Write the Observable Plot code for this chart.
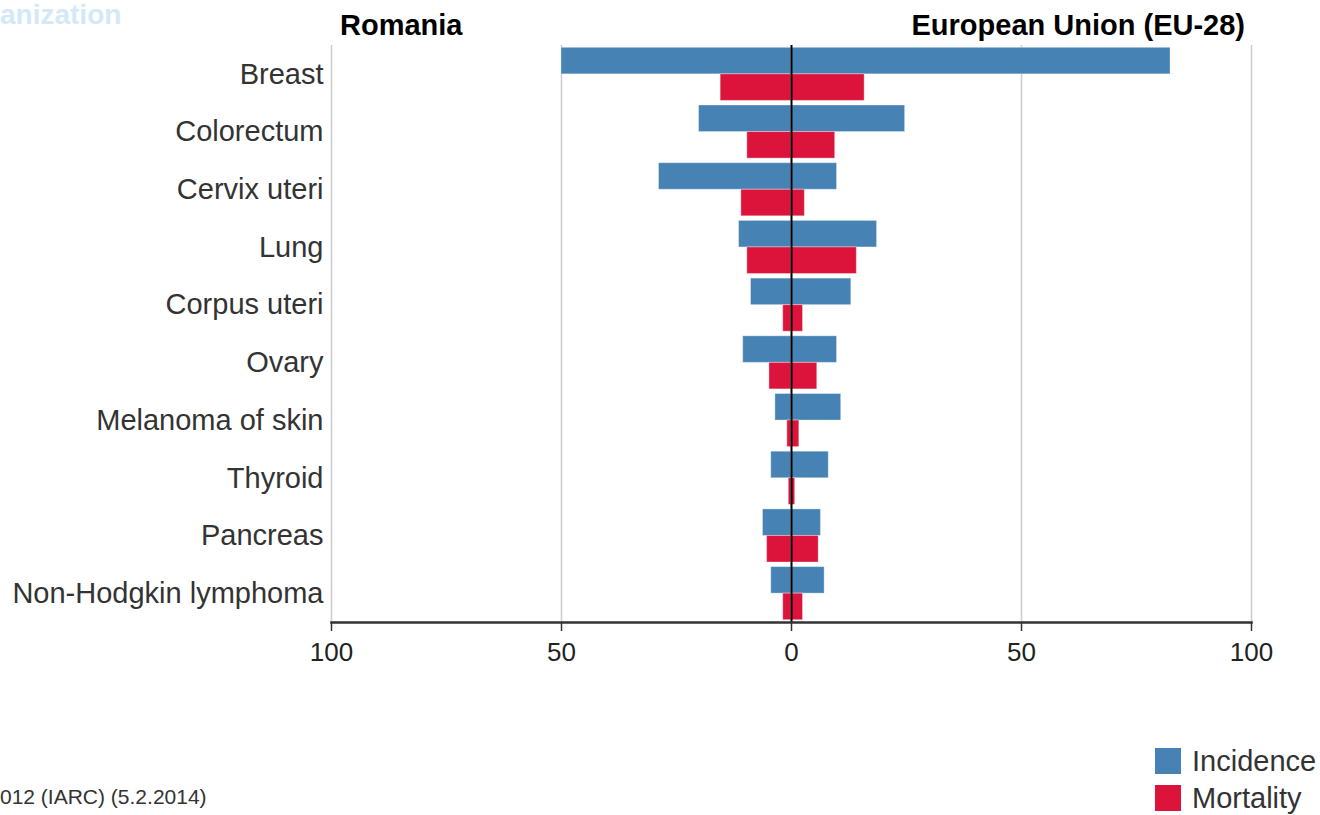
<!DOCTYPE html>
<html>
<head>
<meta charset="utf-8">
<script src="https://cdn.jsdelivr.net/npm/d3@7"></script>
<script src="https://cdn.jsdelivr.net/npm/@observablehq/plot@0.6"></script>
<style>
  html, body { margin: 0; padding: 0; background: #fff; }
  #wrap { position: relative; width: 1320px; height: 815px; overflow: hidden; font-family: "Liberation Sans", Arial, sans-serif; }
  #chart { position: absolute; left: 0; top: 0; }
  .abs { position: absolute; white-space: nowrap; line-height: 1; }
  .hdr { font-weight: bold; font-size: 29px; color: #000; }
  .leg { font-size: 29px; color: #333; }
  .sw { position: absolute; width: 26px; height: 26px; }
</style>
</head>
<body>
<div id="wrap">
  <div id="chart"></div>
  <div class="abs" style="left:0px; top:1px; font-size:28px; font-weight:bold; color:#d3e9f7;">anization</div>
  <div class="abs hdr" id="hLeft" style="left:340px; top:11px;"></div>
  <div class="abs hdr" id="hRight" style="right:75px; top:11px;"></div>
  <div class="abs" id="caption" style="left:0px; top:786px; font-size:21px; color:#333;"></div>
  <div id="legend"></div>
</div>
<script>
// ---- data ----
const categories = ["Breast", "Colorectum", "Cervix uteri", "Lung", "Corpus uteri", "Ovary",
  "Melanoma of skin", "Thyroid", "Pancreas", "Non-Hodgkin lymphoma"];
const romaniaIncidence = [50.0, 20.1, 28.8, 11.4, 8.8, 10.5, 3.5, 4.4, 6.2, 4.4];
const romaniaMortality = [15.4, 9.6, 10.9, 9.6, 1.8, 4.8, 0.9, 0.6, 5.3, 1.8];
const euIncidence = [82.4, 24.7, 9.9, 18.6, 13.0, 9.9, 10.8, 8.1, 6.4, 7.2];
const euMortality = [15.9, 9.5, 2.9, 14.2, 2.5, 5.6, 1.7, 0.8, 5.9, 2.5];
const xTicks = [-100, -50, 0, 50, 100];
const leftTitle = "Romania";
const rightTitle = "European Union (EU-28)";
const seriesNames = ["Incidence", "Mortality"];
const seriesColors = ["#4682b4", "#dc143c"];
const captionText = "012 (IARC) (5.2.2014)";

// ---- tables ----
const rows = [];
categories.forEach((c, i) => {
  rows.push({cat: c, series: "Incidence", side: "Romania", v: -romaniaIncidence[i]});
  rows.push({cat: c, series: "Incidence", side: "EU", v: euIncidence[i]});
  rows.push({cat: c, series: "Mortality", side: "Romania", v: -romaniaMortality[i]});
  rows.push({cat: c, series: "Mortality", side: "EU", v: euMortality[i]});
});
const inc = rows.filter(d => d.series === "Incidence");
const mor = rows.filter(d => d.series === "Mortality");

// ---- layout ----
const W = 1320, H = 680, mT = 45, mB = 58, mL = 331, mR = 69;
const pIn = 0.08, pOut = 0.04;
const step = (H - mT - mB) / (categories.length - pIn + 2 * pOut);
const half = step * (1 - pIn) / 2;

const chart = Plot.plot({
  width: W, height: H,
  marginTop: mT, marginBottom: mB, marginLeft: mL, marginRight: mR,
  style: {fontFamily: "Liberation Sans, Arial, sans-serif", background: "#fff", overflow: "visible"},
  x: {domain: [-100, 100]},
  y: {domain: categories, paddingInner: pIn, paddingOuter: pOut, round: false},
  marks: [
    Plot.gridX([-100, -50, 50, 100], {stroke: "#cccccc", strokeOpacity: 1, strokeWidth: 1.5}),
    Plot.barX(inc, {x1: 0, x2: "v", y: "cat", fill: seriesColors[0], insetBottom: half, insetTop: 0,
      stroke: "#ffffff", strokeOpacity: 0.35, strokeWidth: 1}),
    Plot.barX(mor, {x1: 0, x2: "v", y: "cat", fill: seriesColors[1], insetTop: half, insetBottom: 0,
      stroke: "#ffffff", strokeOpacity: 0.35, strokeWidth: 1}),
    Plot.ruleX([0], {stroke: "#000", strokeWidth: 2}),
    Plot.frame({anchor: "bottom", stroke: "#333", strokeWidth: 2.5}),
    Plot.axisX(xTicks, {tickFormat: d => Math.abs(d), tickSize: 9, tickPadding: 11, fontSize: 26,
      fill: "#222", stroke: "#333", strokeWidth: 1.5, label: null}),
    Plot.axisY({tickSize: 0, tickPadding: 8, fontSize: 29, fill: "#333", label: null})
  ]
});
document.getElementById("chart").appendChild(chart);

document.getElementById("hLeft").textContent = leftTitle;
document.getElementById("hRight").textContent = rightTitle;
document.getElementById("caption").textContent = captionText;

const legend = document.getElementById("legend");
seriesNames.forEach((n, i) => {
  const top = 748 + i * 37;
  const sw = document.createElement("div");
  sw.className = "sw";
  sw.style.left = "1155px"; sw.style.top = top + "px"; sw.style.background = seriesColors[i];
  legend.appendChild(sw);
  const t = document.createElement("div");
  t.className = "abs leg";
  t.style.left = "1192px"; t.style.top = (top - 1) + "px";
  t.textContent = n;
  legend.appendChild(t);
});
</script>
</body>
</html>
